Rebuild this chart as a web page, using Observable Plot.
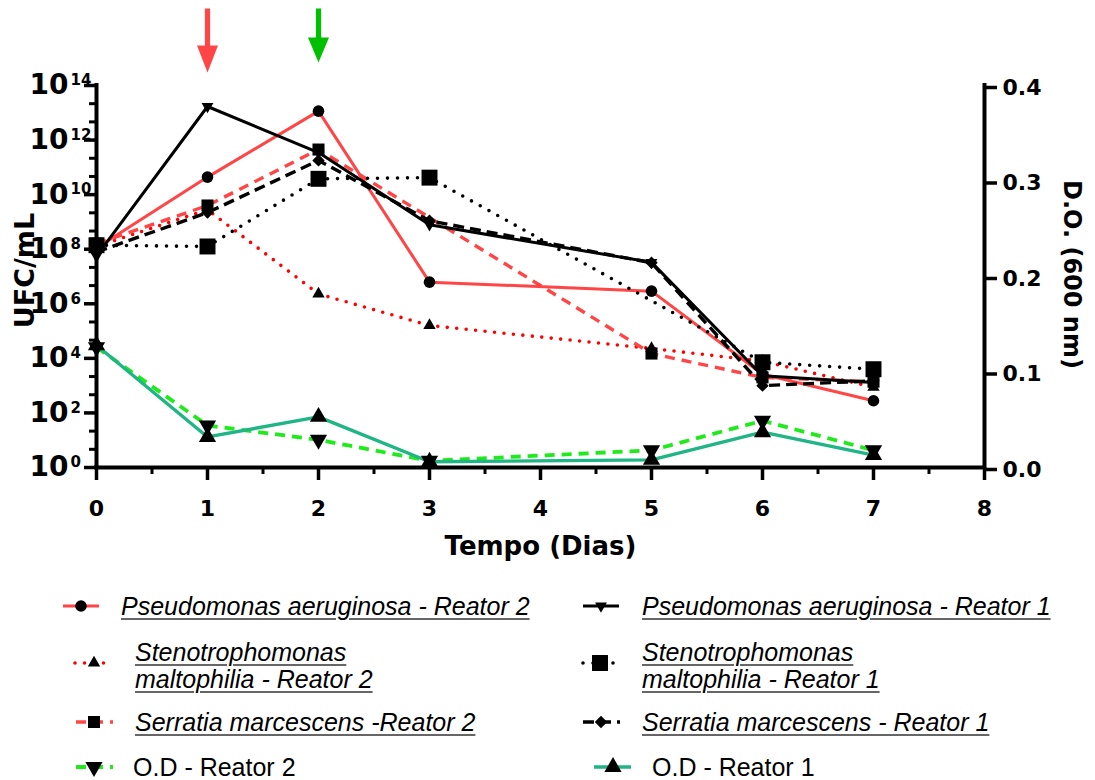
<!DOCTYPE html>
<html><head><meta charset="utf-8">
<script src="https://cdn.jsdelivr.net/npm/d3@7"></script>
<script src="https://cdn.jsdelivr.net/npm/@observablehq/plot@0.6"></script>
<style>
html,body{margin:0;padding:0;background:#fff}
body{width:1095px;height:780px;position:relative;overflow:hidden}
#chart{position:absolute;left:0;top:0}
#legend{position:absolute;left:0;top:0;width:1095px;height:780px;pointer-events:none}
.lt{position:absolute;font-family:"Liberation Sans",Arial,sans-serif;font-size:25px;line-height:27px;color:#000;white-space:nowrap}
.lt.it{font-style:italic}
.lt.it span{text-decoration:underline;text-decoration-color:#666;text-decoration-thickness:1.5px;text-underline-offset:3px}
</style></head><body>
<div id="chart"></div>
<script>
// ---------- data ----------
const days = [0, 1, 2, 3, 5, 6, 7];
const pAeruginosaR2  = [1.1e8, 4.4e10, 1.15e13, 6.2e6, 2.9e6, 2.6e3, 2.8e2];
const pAeruginosaR1  = [5.6e7, 1.7e13, 3.5e11, 7.9e8, 3.3e7, 2.3e3, 1.3e3];
const sMaltophiliaR2 = [1.26e8, 2.8e9, 2.3e6, 1.6e5, 2.3e4, 7.9e3, 8.7e2];
const sMarcescensR2  = [1.6e8, 4.0e9, 4.5e11, null, 1.5e4, 2.0e3, 1.4e3];
const sMaltophiliaR1 = [1.4e8, 1.26e8, 3.8e10, 4.2e10, null, 7.2e3, 4.0e3];
const sMarcescensR1  = [7.9e7, 2.2e9, 1.8e11, 1.1e9, 3.2e7, 1.0e3, 1.5e3];
const odR2 = [0.126, 0.044, 0.029, 0.007, 0.018, 0.049, 0.018];
const odR1 = [0.128, 0.032, 0.053, 0.006, 0.008, 0.037, 0.013];

const xTicks = [0, 1, 2, 3, 4, 5, 6, 7, 8];
const xMinorTicks = [0.5, 1.5, 2.5, 3.5, 4.5, 5.5, 6.5, 7.5];
const ufcExponents = [0, 2, 4, 6, 8, 10, 12, 14];
const odTicks = [0, 0.1, 0.2, 0.3, 0.4];
const arrowDays = [1, 2];

const xLabel = "Tempo (Dias)";
const yLabel = "UFC/mL";
const y2Label = "D.O. (600 nm)";

const legendLeft = [["Pseudomonas aeruginosa - Reator 2"], ["Stenotrophomonas", "maltophilia - Reator 2"], ["Serratia marcescens -Reator 2"], ["O.D - Reator 2"]];
const legendRight = [["Pseudomonas aeruginosa - Reator 1"], ["Stenotrophomonas", "maltophilia - Reator 1"], ["Serratia marcescens - Reator 1"], ["O.D - Reator 1"]];

// ---------- styles ----------
const RED = "#ff4545", RED_DOT = "#ff0000", GREEN = "#1fea1a", TEAL = "#1fb584";
const series = [
  {key:"pAerR2", values:pAeruginosaR2, axis:"ufc", stroke:RED, width:3, dash:null, cap:"butt", symbol:"circle", r:5.8, rotate:0, col:0, row:0},
  {key:"sMalR2", values:sMaltophiliaR2, axis:"ufc", stroke:RED_DOT, width:3.6, dash:"0 9.5", cap:"round", symbol:"triangle", r:4.6, rotate:0, col:0, row:1},
  {key:"sMarR2", values:sMarcescensR2, axis:"ufc", stroke:RED, width:3.4, dash:"10 7", cap:"butt", symbol:"square", r:6.8, rotate:0, col:0, row:2},
  {key:"odR2", values:odR2, axis:"od", stroke:GREEN, width:3.8, dash:"10 7", cap:"butt", symbol:"triangle", r:6.4, rotate:180, col:0, row:3},
  {key:"pAerR1", values:pAeruginosaR1, axis:"ufc", stroke:"#000", width:3, dash:null, cap:"butt", symbol:"triangle", r:4.4, rotate:180, col:1, row:0},
  {key:"sMalR1", values:sMaltophiliaR1, axis:"ufc", stroke:"#000", width:3.6, dash:"0 10", cap:"round", symbol:"square", r:9, rotate:0, col:1, row:1},
  {key:"sMarR1", values:sMarcescensR1, axis:"ufc", stroke:"#000", width:3.4, dash:"11 6", cap:"butt", symbol:"diamond2", r:5.6, rotate:0, col:1, row:2},
  {key:"odR1", values:odR1, axis:"od", stroke:TEAL, width:3.4, dash:null, cap:"butt", symbol:"triangle", r:6.4, rotate:0, col:1, row:3}
];
const arrowStyle = [
  {color:"#ff4646", shaftTop:-77, headTop:-40, tip:-13, halfW:10.5, shaftHalf:2.6},
  {color:"#00c000", shaftTop:-77, headTop:-48, tip:-23, halfW:10.5, shaftHalf:2.6}
];

// ---------- scales glue ----------
const logMax = d3.max(ufcExponents);
const odMax = d3.max(odTicks);
const k = logMax / odMax;
const rows = series.flatMap(s => days.map((d, i) => ({key: s.key, day: d, v: s.values[i]}))
  .filter(r => r.v != null)
  .map(r => ({...r, y: s.axis === "ufc" ? Math.log10(r.v) : r.v * k})));
const minorY = d3.range(0, logMax + 1e-9, 2/3).filter(v => Math.abs(v - Math.round(v/2)*2) > 0.05);

function arrowSymbol(a) {
  return {draw(ctx) {
    ctx.moveTo(-a.shaftHalf, a.shaftTop); ctx.lineTo(a.shaftHalf, a.shaftTop);
    ctx.lineTo(a.shaftHalf, a.headTop); ctx.lineTo(a.halfW, a.headTop);
    ctx.lineTo(0, a.tip); ctx.lineTo(-a.halfW, a.headTop);
    ctx.lineTo(-a.shaftHalf, a.headTop); ctx.closePath();
  }};
}

const lineMarks = series.map(s => Plot.line(rows.filter(r => r.key === s.key), {
  x: "day", y: "y", stroke: s.stroke, strokeWidth: s.width,
  strokeDasharray: s.dash || undefined, strokeLinecap: s.cap, strokeLinejoin: "round"
}));
const dotMarks = series.map(s => Plot.dot(rows.filter(r => r.key === s.key), {
  x: "day", y: "y", symbol: s.symbol, r: s.r, fill: "#000", stroke: "none", rotate: s.rotate
}));
const arrowMarks = arrowDays.map((d, i) => Plot.dot([{day: d}], {
  x: "day", frameAnchor: "top", symbol: arrowSymbol(arrowStyle[i]), fill: arrowStyle[i].color, stroke: "none"
}));

const chart = Plot.plot({
  width: 1095, height: 580,
  marginLeft: 96, marginRight: 111, marginTop: 85, marginBottom: 113,
  style: {fontFamily: "'DejaVu Sans', sans-serif", fontWeight: "bold", color: "#000", background: "#fff", overflow: "visible"},
  x: {domain: [0, 8], axis: null},
  y: {domain: [0, logMax], axis: null},
  marks: [
    ...lineMarks,
    ...dotMarks,
    ...arrowMarks,
    // axes lines
    Plot.ruleX([0, 8], {stroke: "#000", strokeWidth: 4, strokeLinecap: "square"}),
    Plot.ruleY([0], {stroke: "#000", strokeWidth: 4, strokeLinecap: "square"}),
    // x axis
    Plot.axisX(xTicks, {anchor: "bottom", tickSize: 13, tickPadding: 20, strokeWidth: 3.5, fontSize: 22, tickFormat: d => String(d), label: null}),
    Plot.axisX(xMinorTicks, {anchor: "bottom", tickSize: 7, strokeWidth: 3, tickFormat: () => "", label: null}),
    // left axis
    Plot.axisY(ufcExponents, {anchor: "left", tickSize: 12, tickPadding: 16, strokeWidth: 3.5, fontSize: 28, tickFormat: () => "10", label: null}),
    Plot.axisY(ufcExponents, {anchor: "left", tickSize: 0, tickPadding: 26, textAnchor: "start", fontSize: 15, dy: -5, tickFormat: d => String(d), label: null}),
    Plot.axisY(minorY, {anchor: "left", tickSize: 7, strokeWidth: 3, tickFormat: () => "", label: null}),
    // right axis
    Plot.axisY(odTicks.map(t => t * k), {anchor: "right", tickSize: 12, tickPadding: 6, strokeWidth: 3.5, fontSize: 22, dy: 2, tickFormat: d => (d / k).toFixed(1), label: null}),
    // axis titles
    Plot.text([yLabel], {frameAnchor: "left", text: d => d, rotate: -90, dx: -71, dy: -6, fontSize: 27, fontWeight: "bold", textAnchor: "middle", lineAnchor: "middle"}),
    Plot.text([y2Label], {frameAnchor: "right", text: d => d, rotate: 90, dx: 87, dy: -2, fontSize: 24, fontWeight: "bold", textAnchor: "middle", lineAnchor: "middle"}),
    Plot.text([xLabel], {frameAnchor: "bottom", text: d => d, dy: 79, fontSize: 26, fontWeight: "bold", textAnchor: "middle", lineAnchor: "middle"})
  ]
});
document.getElementById("chart").appendChild(chart);

// ---------- legend ----------
const legendLayout = {
  rowY: [606, 663, 722, 767],
  textTop: [593, 639, 709, 754],
  cols: [
    {x0: [63, 75, 76, 76], x1: [99, 108, 113, 113], mx: [81, 94, 94, 94], tx: [121, 135, 135, 133]},
    {x0: [583, 583, 583, 594], x1: [619, 615, 620, 631], mx: [601, 600, 601, 613], tx: [642, 642, 642, 652]}
  ]
};
const symMap = {circle: d3.symbolCircle, triangle: d3.symbolTriangle, square: d3.symbolSquare, diamond2: d3.symbolDiamond2};
const svg = d3.select("body").append("svg").attr("id", "legend").attr("width", 1095).attr("height", 780);
series.forEach(s => {
  const c = legendLayout.cols[s.col], i = s.row, y = legendLayout.rowY[i];
  svg.append("line").attr("x1", c.x0[i]).attr("x2", c.x1[i]).attr("y1", y).attr("y2", y)
    .attr("stroke", s.stroke).attr("stroke-width", s.width)
    .attr("stroke-dasharray", s.dash || null).attr("stroke-linecap", s.cap);
  svg.append("path").attr("d", d3.symbol(symMap[s.symbol], Math.PI * s.r * s.r)())
    .attr("transform", `translate(${c.mx[i]},${y}) rotate(${s.rotate})`).attr("fill", "#000");
  const lines = (s.col === 0 ? legendLeft : legendRight)[i];
  const div = d3.select("body").append("div").attr("class", "lt" + (s.axis === "ufc" ? " it" : ""))
    .style("left", c.tx[i] + "px").style("top", legendLayout.textTop[i] + "px");
  div.html(lines.map(t => `<span>${t}</span>`).join("<br>"));
});
</script>
</body></html>
